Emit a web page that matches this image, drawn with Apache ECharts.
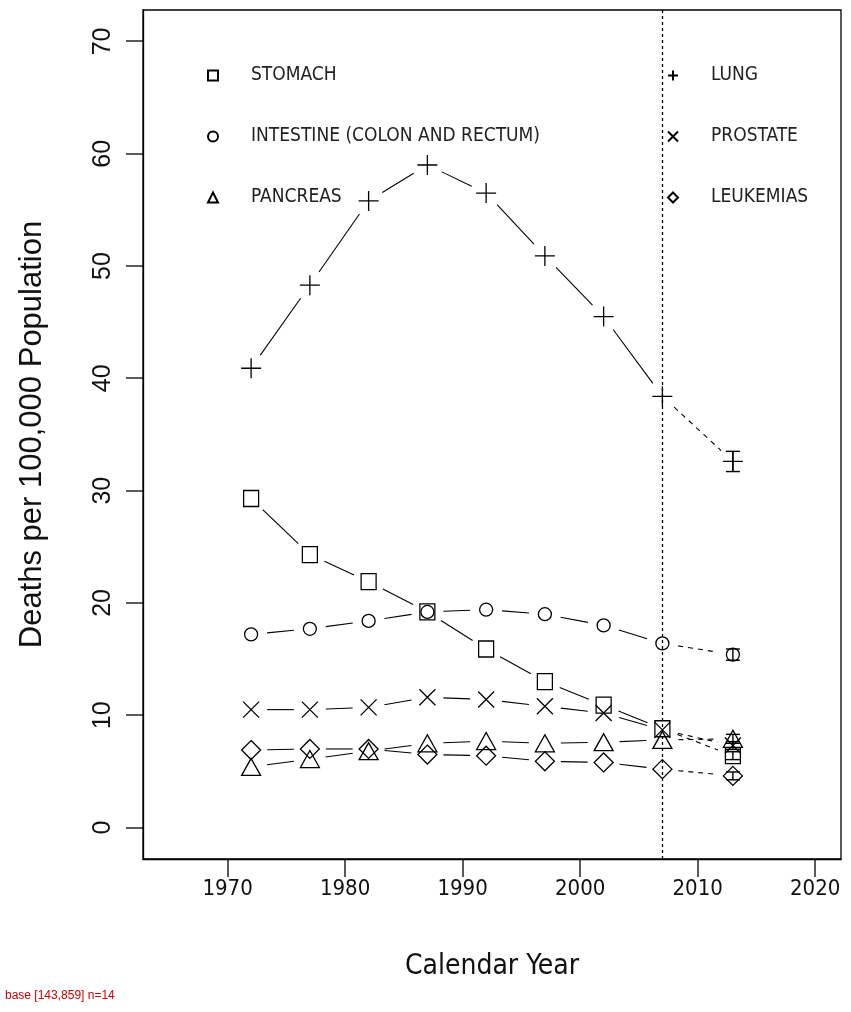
<!DOCTYPE html>
<html>
<head>
<meta charset="utf-8">
<script src="https://cdn.jsdelivr.net/npm/echarts@6/dist/echarts.min.js"></script>
<style>
  html, body { margin: 0; padding: 0; background: #fff; }
  #chart { width: 851px; height: 1012px; }
</style>
</head>
<body>
<div id="chart"></div>
<script>
// ---------------- data ----------------
const years = [1972, 1977, 1982, 1987, 1992, 1997, 2002, 2007, 2013];
const stomach   = [29.3, 24.3, 21.9, 19.2, 15.9, 13.0, 10.9, 8.8, 6.4];
const intestine = [17.2, 17.7, 18.4, 19.2, 19.4, 19.0, 18.0, 16.4, 15.4];
const pancreas  = [5.4, 6.1, 6.8, 7.5, 7.7, 7.5, 7.6, 7.8, 7.9];
const lung      = [40.9, 48.3, 55.8, 59.0, 56.5, 50.9, 45.5, 38.4, 32.6];
const prostate  = [10.5, 10.5, 10.7, 11.6, 11.4, 10.8, 10.2, 8.7, 7.3];
const leukemias = [6.9, 7.0, 7.0, 6.5, 6.4, 5.9, 5.8, 5.2, 4.6];
// half-width of the 2013 interval for each series
const errHalf = { STOMACH: 0.35, INTESTINE: 0.5, PANCREAS: 0.4, LUNG: 0.9, PROSTATE: 0.35, LEUKEMIAS: 0.35 };
const cutoffYear = 2007;
const xTicks = [1970, 1980, 1990, 2000, 2010, 2020];
const yTicks = [0, 10, 20, 30, 40, 50, 60, 70];
const xMin = 1962.8, xMax = 2022.2, yMin = -2.8, yMax = 72.8;

const seriesDefs = [
  { name: 'STOMACH', key: 'STOMACH', values: stomach, symbol: 'rect', size: [15, 16] },
  { name: 'INTESTINE (COLON AND RECTUM)', key: 'INTESTINE', values: intestine, symbol: 'circle', size: 13 },
  { name: 'PANCREAS', key: 'PANCREAS', values: pancreas, symbol: 'triangle', size: [19, 17] },
  { name: 'LUNG', key: 'LUNG', values: lung, symbol: 'path://M0,10L20,10M10,0L10,20', size: 20 },
  { name: 'PROSTATE', key: 'PROSTATE', values: prostate, symbol: 'path://M0,0L20,20M20,0L0,20', size: 16 },
  { name: 'LEUKEMIAS', key: 'LEUKEMIAS', values: leukemias, symbol: 'diamond', size: [19, 19] }
];

const NARROW = "'Liberation Sans Narrow', 'DejaVu Sans Condensed', 'Liberation Sans', sans-serif";
const GAP = 16;
const TICK_X = 18, TICK_Y = 17;
function segRender(params, api) {
  const p1 = api.coord([api.value(0), api.value(1)]);
  const p2 = api.coord([api.value(2), api.value(3)]);
  const dx = p2[0] - p1[0], dy = p2[1] - p1[1];
  const L = Math.hypot(dx, dy);
  if (L <= 2 * GAP) return null;
  const ux = dx / L, uy = dy / L;
  const dashed = api.value(2) > cutoffYear;
  return {
    type: 'line',
    shape: { x1: p1[0] + ux * GAP, y1: p1[1] + uy * GAP, x2: p2[0] - ux * GAP, y2: p2[1] - uy * GAP },
    style: { stroke: '#000', lineWidth: 1.1, lineDash: dashed ? [5, 5] : null }
  };
}
function errRender(params, api) {
  const x = api.value(0);
  const top = api.coord([x, api.value(2)]);
  const bot = api.coord([x, api.value(1)]);
  const hw = 7;
  const st = { stroke: '#000', lineWidth: 1.4 };
  return {
    type: 'group',
    children: [
      { type: 'line', shape: { x1: top[0], y1: top[1], x2: bot[0], y2: bot[1] }, style: st },
      { type: 'line', shape: { x1: top[0] - hw, y1: top[1], x2: top[0] + hw, y2: top[1] }, style: st },
      { type: 'line', shape: { x1: bot[0] - hw, y1: bot[1], x2: bot[0] + hw, y2: bot[1] }, style: st }
    ]
  };
}

const series = [];
seriesDefs.forEach(function (d) {
  const segs = [];
  for (let i = 0; i < years.length - 1; i++) {
    segs.push([years[i], d.values[i], years[i + 1], d.values[i + 1]]);
  }
  series.push({
    type: 'custom', name: d.name + '_line', renderItem: segRender, data: segs,
    encode: { x: [0, 2], y: [1, 3] }, silent: true, z: 2
  });
});
seriesDefs.forEach(function (d, idx) {
  const s = {
    type: 'scatter', name: d.name, symbol: d.symbol, symbolSize: d.size,
    data: years.map(function (y, i) { return [y, d.values[i]]; }),
    itemStyle: { color: 'rgba(255,255,255,0)', borderColor: '#000', borderWidth: 1.3, opacity: 1 },
    emphasis: { disabled: true }, silent: true, z: 3
  };
  if (idx === 3) {
    s.markLine = {
      silent: true, symbol: 'none', label: { show: false },
      lineStyle: { type: [3, 3], color: '#000', width: 1.3 },
      data: [{ xAxis: cutoffYear }], animation: false
    };
  }
  series.push(s);
});
series.push({
  type: 'custom', name: 'err', renderItem: errRender, silent: true, z: 4,
  data: seriesDefs.map(function (d) {
    const n = d.values.length - 1;
    return [years[n], d.values[n] - errHalf[d.key], d.values[n] + errHalf[d.key]];
  }),
  encode: { x: 0, y: [1, 2] }
});

const legendText = { fontFamily: NARROW, fontSize: 19, color: '#222', padding: [0, 0, 0, 28], lineHeight: 21 };
const axisLineStyle = { color: '#000', width: 1.3 };
const chart = echarts.init(document.getElementById('chart'), null, { renderer: 'canvas' });
chart.setOption({
  animation: false,
  backgroundColor: '#fff',
  grid: { left: 143, right: 10, top: 10, bottom: 153, show: true, borderColor: '#000', borderWidth: 1.3, backgroundColor: 'transparent' },
  legend: [
    { data: seriesDefs.slice(0, 3).map(function (d) { return d.name; }), orient: 'vertical', left: 202, top: 60,
      itemWidth: 10, itemHeight: 10, itemGap: 40, textStyle: legendText, selectedMode: false },
    { data: seriesDefs.slice(3).map(function (d) { return d.name; }), orient: 'vertical', left: 662, top: 60,
      itemWidth: 10, itemHeight: 10, itemGap: 40, textStyle: legendText, selectedMode: false }
  ],
  xAxis: {
    type: 'value', min: xMin, max: xMax,
    name: 'Calendar Year', nameLocation: 'middle', nameGap: 94,
    nameTextStyle: { fontFamily: NARROW, fontSize: 28, color: '#111' },
    splitLine: { show: false },
    axisLine: { show: true, onZero: false, lineStyle: axisLineStyle },
    axisTick: { show: false },
    axisLabel: { customValues: xTicks, fontFamily: NARROW, fontSize: 22, color: '#111', margin: 19,
      formatter: function (v) { return String(v); } }
  },
  yAxis: {
    type: 'value', min: yMin, max: yMax,
    name: 'Deaths per 100,000 Population', nameLocation: 'middle', nameGap: 95, nameRotate: 90,
    nameTextStyle: { fontFamily: 'Liberation Sans', fontSize: 31, color: '#111' },
    splitLine: { show: false },
    axisLine: { show: true, onZero: false, lineStyle: axisLineStyle },
    axisTick: { show: false },
    axisLabel: { customValues: yTicks, rotate: 90, fontFamily: 'Liberation Sans', fontSize: 25, color: '#111', margin: 27,
      formatter: function (v) { return String(v); } }
  },
  series: series
});

// tick marks outside the frame: rectangles placed through the axes' scales
let info = '';
try {
  const els = [];
  const base = chart.convertToPixel({ gridIndex: 0 }, [xMin, yMin]);
  info = 'base ' + JSON.stringify(base);
  xTicks.forEach(function (v) {
    const p = chart.convertToPixel({ gridIndex: 0 }, [v, yMin]);
    els.push({ type: 'rect', silent: true, z: 100,
      shape: { x: Math.round(p[0]) - 0.65, y: p[1], width: 1.3, height: TICK_X }, style: { fill: '#000' } });
  });
  yTicks.forEach(function (v) {
    const p = chart.convertToPixel({ gridIndex: 0 }, [xMin, v]);
    els.push({ type: 'rect', silent: true, z: 100,
      shape: { x: p[0] - TICK_Y, y: Math.round(p[1]) - 0.65, width: TICK_Y, height: 1.3 }, style: { fill: '#000' } });
  });
  els.push({ type: 'text', left: 5, top: 990, z: 100, style: { text: info + ' n=' + els.length, fill: '#c00', fontSize: 12 } });
  chart.setOption({ graphic: { elements: els } });
} catch (e) {
  chart.setOption({ graphic: { elements: [{ type: 'text', left: 5, top: 990, style: { text: 'ERR ' + e.message, fill: '#c00', fontSize: 12 } }] } });
}
</script>
</body>
</html>
